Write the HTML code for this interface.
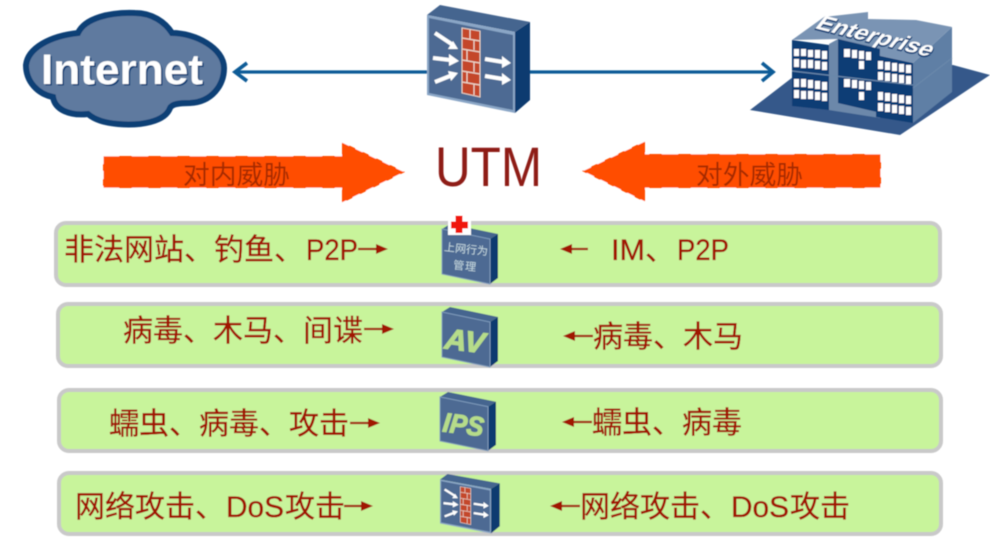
<!DOCTYPE html>
<html><head><meta charset="utf-8"><style>
html,body{margin:0;padding:0;background:#fff;width:990px;height:541px;overflow:hidden}
svg{display:block}
.t{font-family:"Liberation Sans","Noto Sans CJK SC",sans-serif;font-size:30px;fill:#a01804;stroke:#a01804;stroke-width:.35}
.a{font-family:"Liberation Sans","Noto Sans CJK SC",sans-serif;font-size:26px;fill:#a52c06}
</style></head><body>
<svg width="990" height="541" viewBox="0 0 990 541" xmlns="http://www.w3.org/2000/svg">
<defs>
<filter id="b" x="-5%" y="-5%" width="110%" height="110%"><feGaussianBlur stdDeviation="0.45"/></filter>
<g id="fw">
<polygon points="427,15 440,5 530,22 515,32" fill="#44658f"/>
<polygon points="515,32 530,22 530,100 515,113" fill="#0d3b70"/>
<polygon points="427,15 515,32 515,113 427,95" fill="#8aa6c6"/>
<polygon points="429,18 513,35 513,110 429,93" fill="#4d6b93"/>
<polygon points="462,28 480,31 480,97 462,93" fill="#c4472c" stroke="#e8d4c8" stroke-width="1"/>
<path d="M462,38 L480,41 M462,49 L480,52 M462,60 L480,63 M462,71 L480,74 M462,82 L480,85 M470,29 V39 M474,40 V50 M467,50 V61 M474,62 V72 M467,72 V83 M474,84 V95" stroke="#ecd8cc" stroke-width="1.2" fill="none"/>
<g fill="#fff" stroke="#fff">
<path d="M435,33 L453,45" stroke-width="4"/><polygon points="458,49 448,49 453,41" stroke="none"/>
<path d="M433,58 L450,60" stroke-width="4"/><polygon points="459,61 449,54 449,66" stroke="none"/>
<path d="M435,82 L450,76" stroke-width="4"/><polygon points="458,73 448,71 451,81" stroke="none"/>
<path d="M485,59 L503,62" stroke-width="4"/><polygon points="511,63 502,56 502,68" stroke="none"/>
<path d="M485,76 L503,79" stroke-width="4"/><polygon points="511,80 502,73 502,85" stroke="none"/>
</g>
</g>
<g id="box">
<polygon points="0,5 8,0 56,10 48,15" fill="#44658f"/>
<polygon points="48,15 56,10 56,54 48,60" fill="#0d3b70"/>
<polygon points="0,5 48,15 48,60 0,50" fill="#4d6b93" stroke="#7f9bbc" stroke-width="1"/>
</g>
</defs>

<g filter="url(#b)">
<!-- Cloud -->
<path d="M26,65 C28,48 50,36 78,33 C85,18 110,12 135,13 C152,13 165,22 172,33 C195,33 224,48 224,68 C224,85 212,102 190,103 C178,103 172,104 170,108 C165,122 140,126 118,124 C105,123 95,120 88,114 C70,116 55,110 53,97 C38,94 26,82 26,65 Z" fill="#5f7a9f" stroke="#0d3f76" stroke-width="6"/>
<text x="41" y="84" font-family="Liberation Sans,sans-serif" font-weight="700" font-size="43" textLength="162" lengthAdjust="spacingAndGlyphs" fill="#0d3f76" transform="translate(1.5,1.5)">Internet</text>
<text x="41" y="84" font-family="Liberation Sans,sans-serif" font-weight="700" font-size="43" textLength="162" lengthAdjust="spacingAndGlyphs" fill="#fff">Internet</text>

<!-- Link -->
<path d="M236,72 H772" stroke="#0f5b97" stroke-width="3.2" fill="none"/>
<path d="M247,63 L235,72 L247,81 M762,63 L773,72 L762,81" stroke="#0f5b97" stroke-width="3.6" fill="none"/>

<use href="#fw"/>

<!-- Building -->
<polygon points="750,110 793,77 953,65 990,75 900,135" fill="#34598a"/>
<polygon points="913,63 952,27 952,92 913,123" fill="#5f7fa5"/>
<polygon points="792,40 824,17 868,12 868,19 916,20 952,27 913,63 876,55 838,39" fill="#7a94b4"/>
<polygon points="829,44 838,39 880,48 880,118 829,110" fill="#6c88aa"/>
<polygon points="792,40 829,45 829,110 792,106" fill="#0f3c75"/>
<polygon points="838,39 880,49 877,112 838,103" fill="#0f3c75"/>
<polygon points="876,55 913,63 913,123 876,117" fill="#0f3c75"/>
<path d="M792,71 L913,85 M913,88 L952,58" stroke="#6a88aa" stroke-width="1.2"/>
<g fill="#fff">
<path d="M794,49h5v7h-5zM801,49h5v7h-5zM808,50h5v7h-5zM815,50h5v8h-5zM822,51h5v8h-5zM794,59h5v8h-5zM801,60h5v8h-5zM808,60h5v8h-5zM815,61h5v8h-5zM822,62h5v8h-5z"/>
<path d="M794,79h5v8h-5zM801,79h5v8h-5zM808,80h5v8h-5zM815,81h5v8h-5zM822,82h5v8h-5zM794,90h5v8h-5zM801,91h5v8h-5zM808,91h5v8h-5zM815,92h5v8h-5zM822,93h5v8h-5z"/>
<path d="M844,49h6v8h-6zM852,50h5v8h-5zM859,51h5v8h-5zM866,52h5v8h-5zM859,61h5v8h-5z"/>
<path d="M844,79h6v8h-6zM852,80h5v8h-5zM859,81h5v8h-5zM866,82h5v8h-5zM859,92h5v8h-5z"/>
<path d="M878,61h5v8h-5zM885,62h5v8h-5zM892,63h5v8h-5zM899,64h5v8h-5zM906,65h5v8h-5zM878,72h5v8h-5zM885,73h5v8h-5zM892,74h5v8h-5zM899,75h5v8h-5zM906,76h5v8h-5z"/>
<path d="M878,92h5v8h-5zM885,93h5v8h-5zM892,94h5v8h-5zM899,95h5v8h-5zM906,96h5v8h-5zM878,103h5v8h-5zM885,104h5v8h-5zM892,105h5v8h-5zM899,106h5v8h-5zM906,107h5v8h-5z"/>
</g>
<text transform="translate(814,29) rotate(14) skewX(-24)" font-family="Liberation Sans,sans-serif" font-weight="700" font-size="21" textLength="118" lengthAdjust="spacingAndGlyphs" fill="#0d3f76" stroke="#0d3f76" stroke-width="1.5">Enterprise</text>
<text transform="translate(814,28) rotate(14) skewX(-24)" font-family="Liberation Sans,sans-serif" font-weight="700" font-size="21" textLength="118" lengthAdjust="spacingAndGlyphs" fill="#fff">Enterprise</text>

<!-- UTM -->
<text x="435" y="186" font-family="Liberation Sans,sans-serif" font-size="56" textLength="107" lengthAdjust="spacingAndGlyphs" fill="#8e1b16">UTM</text>

<!-- Threat arrows -->
<polygon points="103,156 342,156 342,142 405,172 342,203 342,188 103,188" fill="#ff4d00"/>
<polygon points="881,154 645,154 645,141 582,171 645,202 645,188 881,188" fill="#ff4d00"/>
<path d="M103,155.5 H342 M103,188.5 H342 M881,153.5 H645 M881,188.5 H645" stroke="#fff" stroke-width="1.8" stroke-dasharray="16 13" fill="none"/>
<path d="M103,156 V188 M881,154 V188 M342,142 L405,172 L342,203 M645,141 L582,171 L645,202" stroke="#fff" stroke-width="1.2" stroke-dasharray="8 7" fill="none"/>
<text class="a" x="183" y="184" textLength="107" lengthAdjust="spacingAndGlyphs">对内威胁</text>
<text class="a" x="696" y="184" textLength="107" lengthAdjust="spacingAndGlyphs">对外威胁</text>

<!-- Panels -->
<g fill="#c8f49b" stroke="#c9c9c9" stroke-width="4">
<rect x="56" y="223" width="884" height="62" rx="10"/>
<rect x="58" y="304" width="883" height="62" rx="10"/>
<rect x="59" y="390" width="882" height="61" rx="10"/>
<rect x="59" y="473" width="882" height="61" rx="10"/>
</g>

<!-- Panel devices -->
<use href="#box" transform="translate(442,224)"/>
<text x="444" y="253" transform="rotate(6 466 250)" font-family="Liberation Sans,'Noto Sans CJK SC',sans-serif" font-size="11" fill="#c5d8e0" textLength="44">上网行为</text>
<text x="453" y="270" transform="rotate(6 466 268)" font-family="Liberation Sans,'Noto Sans CJK SC',sans-serif" font-size="11" fill="#c5d8e0" textLength="23">管理</text>
<rect x="448" y="217" width="23" height="18" fill="#fff"/>
<path d="M459,216 V233 M451,225 H468" stroke="#f01808" stroke-width="7"/>

<use href="#box" transform="translate(442,307)"/>
<text x="445" y="351" transform="rotate(7 466 340)" font-family="Liberation Sans,sans-serif" font-style="italic" font-weight="700" font-size="29" textLength="40" lengthAdjust="spacingAndGlyphs" fill="#b6dc8a" stroke="#b6dc8a" stroke-width="1">AV</text>

<use href="#box" transform="translate(440,392) scale(1,.98)"/>
<text x="443" y="434" transform="rotate(7 464 424)" font-family="Liberation Sans,sans-serif" font-style="italic" font-weight="700" font-size="27" textLength="41" lengthAdjust="spacingAndGlyphs" fill="#b6dc8a" stroke="#b6dc8a" stroke-width="1">IPS</text>

<use href="#fw" transform="translate(440,474) scale(.58,.55) translate(-427,-5)"/>

<!-- Row text -->
<text class="t" x="64" y="260">非法网站、钓鱼、</text>
<text class="t" x="306" y="260" textLength="52" lengthAdjust="spacingAndGlyphs">P2P</text>
<text class="t" x="611" y="260" textLength="34" lengthAdjust="spacingAndGlyphs">IM</text>
<text class="t" x="645" y="260">、</text>
<text class="t" x="677" y="260" textLength="52" lengthAdjust="spacingAndGlyphs">P2P</text>

<text class="t" x="123" y="341">病毒、木马、间谍</text>
<text class="t" x="593" y="347">病毒、木马</text>

<text class="t" x="109" y="434">蠕虫、病毒、攻击</text>
<text class="t" x="592" y="433">蠕虫、病毒</text>

<text class="t" x="75" y="517">网络攻击、</text>
<text class="t" x="226" y="517" textLength="58" lengthAdjust="spacingAndGlyphs">DoS</text>
<text class="t" x="285" y="517">攻击</text>
<text class="t" x="580" y="517">网络攻击、</text>
<text class="t" x="731" y="517" textLength="58" lengthAdjust="spacingAndGlyphs">DoS</text>
<text class="t" x="790" y="517">攻击</text>

<!-- Row arrows -->
<g fill="#a01804" stroke="#a01804" stroke-width="2.2">
<path d="M358,249 H378"/><polygon points="388,249 376,244 376,254" stroke="none"/>
<path d="M364,329 H384"/><polygon points="394,329 382,324 382,334" stroke="none"/>
<path d="M350,423 H370"/><polygon points="380,423 368,418 368,428" stroke="none"/>
<path d="M344,506 H363"/><polygon points="373,506 361,501 361,511" stroke="none"/>
<path d="M588,249 H570"/><polygon points="560,249 572,244 572,254" stroke="none"/>
<path d="M593,336 H573"/><polygon points="563,336 575,331 575,341" stroke="none"/>
<path d="M592,422 H572"/><polygon points="562,422 574,417 574,427" stroke="none"/>
<path d="M580,506 H560"/><polygon points="550,506 562,501 562,511" stroke="none"/>
</g>
</g>
</svg>
</body></html>
